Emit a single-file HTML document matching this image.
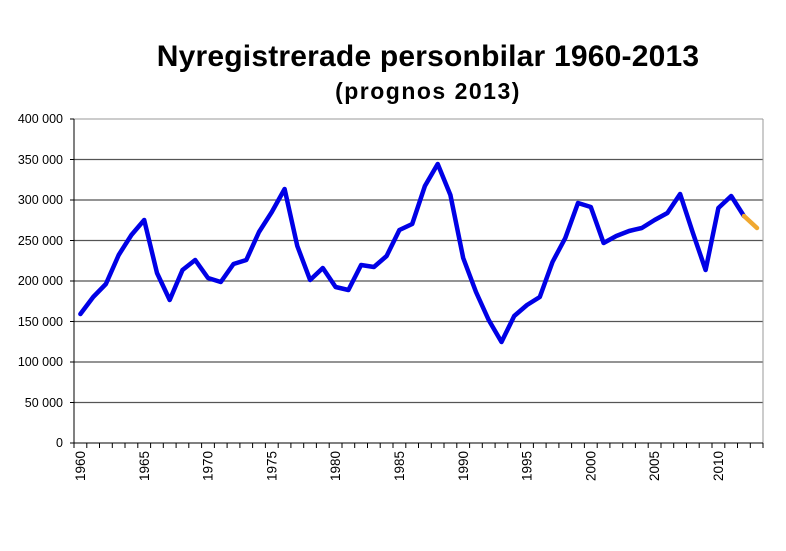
<!DOCTYPE html>
<html><head><meta charset="utf-8"><style>
body{margin:0;background:#fff;}
svg text{font-family:"Liberation Sans",Arial,sans-serif;}
</style></head><body>
<svg width="786" height="546" xmlns="http://www.w3.org/2000/svg">
<text x="428" y="66" text-anchor="middle" font-size="30" font-weight="bold" letter-spacing="0.2" fill="#000">Nyregistrerade personbilar 1960-2013</text>
<text x="428" y="99" text-anchor="middle" font-size="23" font-weight="bold" letter-spacing="1.5" fill="#000">(prognos 2013)</text>
<g stroke="#555" stroke-width="1.2">
<line x1="74" y1="159.5" x2="763" y2="159.5"/>
<line x1="74" y1="200" x2="763" y2="200"/>
<line x1="74" y1="240.5" x2="763" y2="240.5"/>
<line x1="74" y1="281" x2="763" y2="281"/>
<line x1="74" y1="321.5" x2="763" y2="321.5"/>
<line x1="74" y1="362" x2="763" y2="362"/>
<line x1="74" y1="402.5" x2="763" y2="402.5"/>
</g>
<line x1="74" y1="119" x2="763" y2="119" stroke="#999"/>
<line x1="763" y1="119" x2="763" y2="443" stroke="#999"/>
<line x1="74" y1="119" x2="74" y2="443" stroke="#000"/>
<line x1="70" y1="443" x2="763" y2="443" stroke="#000"/>
<g stroke="#000">
<line x1="70" y1="119" x2="74" y2="119"/><line x1="70" y1="159.5" x2="74" y2="159.5"/><line x1="70" y1="200" x2="74" y2="200"/><line x1="70" y1="240.5" x2="74" y2="240.5"/><line x1="70" y1="281" x2="74" y2="281"/><line x1="70" y1="321.5" x2="74" y2="321.5"/><line x1="70" y1="362" x2="74" y2="362"/><line x1="70" y1="402.5" x2="74" y2="402.5"/>
</g>
<path stroke="#000" fill="none" d="M74 443v5M86.8 443v5M99.5 443v5M112.3 443v5M125 443v5M137.8 443v5M150.6 443v5M163.3 443v5M176.1 443v5M188.8 443v5M201.6 443v5M214.4 443v5M227.1 443v5M239.9 443v5M252.6 443v5M265.4 443v5M278.2 443v5M290.9 443v5M303.7 443v5M316.4 443v5M329.2 443v5M342 443v5M354.7 443v5M367.5 443v5M380.2 443v5M393 443v5M405.8 443v5M418.5 443v5M431.3 443v5M444 443v5M456.8 443v5M469.6 443v5M482.3 443v5M495.1 443v5M507.8 443v5M520.6 443v5M533.4 443v5M546.1 443v5M558.9 443v5M571.6 443v5M584.4 443v5M597.2 443v5M609.9 443v5M622.7 443v5M635.4 443v5M648.2 443v5M661 443v5M673.7 443v5M686.5 443v5M699.2 443v5M712 443v5M724.8 443v5M737.5 443v5M750.3 443v5M763 443v5"/>
<g font-size="12.5" text-anchor="end" fill="#000">
<text x="63" y="123">400 000</text><text x="63" y="164">350 000</text><text x="63" y="204">300 000</text><text x="63" y="245">250 000</text><text x="63" y="285">200 000</text><text x="63" y="326">150 000</text><text x="63" y="366">100 000</text><text x="63" y="407">50 000</text><text x="63" y="447">0</text>
</g>
<g font-size="13.5" fill="#000" text-anchor="end">
<text transform="translate(85,451) rotate(-90)">1960</text>
<text transform="translate(148.8,451) rotate(-90)">1965</text>
<text transform="translate(212.6,451) rotate(-90)">1970</text>
<text transform="translate(276.4,451) rotate(-90)">1975</text>
<text transform="translate(340.2,451) rotate(-90)">1980</text>
<text transform="translate(404,451) rotate(-90)">1985</text>
<text transform="translate(467.8,451) rotate(-90)">1990</text>
<text transform="translate(531.6,451) rotate(-90)">1995</text>
<text transform="translate(595.4,451) rotate(-90)">2000</text>
<text transform="translate(659.2,451) rotate(-90)">2005</text>
<text transform="translate(723,451) rotate(-90)">2010</text>
</g>
<polyline fill="none" stroke="#0000e6" stroke-width="4.5" stroke-linejoin="round" stroke-linecap="round" points="80.4,314 93.2,297 105.9,284 118.7,255 131.4,235 144.2,220 157,273 169.7,300 182.5,270 195.2,260 208,278 220.8,282 233.5,264 246.3,260 259,232 271.8,212 284.6,189 297.3,246 310.1,280 322.8,268 335.6,287 348.4,290 361.1,265 373.9,267 386.6,256 399.4,230 412.2,224 424.9,186 437.7,164 450.4,195 463.2,258 476,292 488.7,320 501.5,342 514.2,316 527,305 539.8,297 552.5,262 565.3,238 578,203 590.8,207 603.6,243 616.3,236 629.1,231 641.8,228 654.6,220 667.4,213 680.1,194 692.9,233 705.6,270 718.4,208 731.2,196 743.9,216"/>
<line x1="744" y1="216" x2="757" y2="228" stroke="#f0a830" stroke-width="4.5" stroke-linecap="round"/>
</svg>
</body></html>
